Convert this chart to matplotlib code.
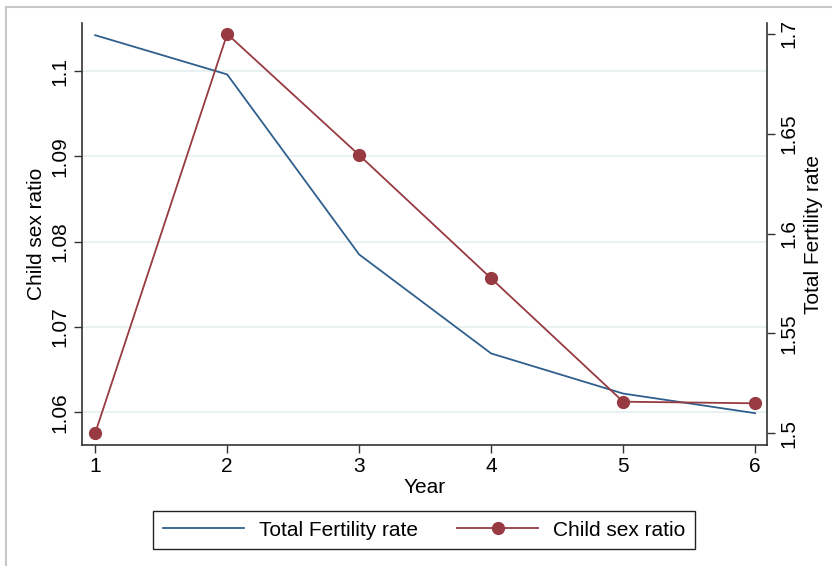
import matplotlib.pyplot as plt
from matplotlib.patches import Rectangle

plt.rcParams['font.family'] = ['Liberation Sans', 'DejaVu Sans']

# data
years = [1, 2, 3, 4, 5, 6]
fertility = [1.1042, 1.0996, 1.0785, 1.0669, 1.0622, 1.0599]   # left axis
sex_ratio = [1.500, 1.700, 1.6393, 1.5775, 1.5157, 1.5149]     # right axis
left_ticks = [1.06, 1.07, 1.08, 1.09, 1.1]
right_ticks = [1.5, 1.55, 1.6, 1.65, 1.7]

blue = '#2f5f8c'
red = '#973a42'
fs = 15

fig = plt.figure(figsize=(8.32, 5.66), dpi=100)
ax = fig.add_axes([82 / 832, 1 - 445 / 566, (767 - 82) / 832, (445 - 23) / 566])
ax2 = ax.twinx()

l1, = ax.plot(years, fertility, color=blue, lw=1.3, label='Total Fertility rate')
l2, = ax2.plot(years, sex_ratio, color=red, lw=1.3, marker='o', markersize=8.5,
               label='Child sex ratio')

ax.set_xlim(0.90, 6.09)
ax.set_ylim(1.05617, 1.10563)
ax2.set_ylim(1.494, 1.7055)

ax.set_yticks(left_ticks)
ax.set_yticklabels(['1.06', '1.07', '1.08', '1.09', '1.1'], rotation=90, va='center')
ax2.set_yticks(right_ticks)
ax2.set_yticklabels(['1.5', '1.55', '1.6', '1.65', '1.7'], rotation=90, va='center')
ax.set_xticks(years)

ax.grid(axis='y', color='#e6eff1', lw=1.2)
ax.set_axisbelow(True)

for a in (ax, ax2):
    a.spines['top'].set_visible(False)
    for s in ('left', 'right', 'bottom'):
        a.spines[s].set_color('#333333')
        a.spines[s].set_linewidth(1.2)
    a.tick_params(labelsize=fs, length=6, width=1.0, color='#333333', pad=3)
ax.spines['right'].set_visible(False)
ax2.spines['left'].set_visible(False)
ax2.spines['bottom'].set_visible(False)

ax.set_xlabel('Year', fontsize=fs, labelpad=1)
ax.set_ylabel('Child sex ratio', fontsize=fs, labelpad=3)
ax2.set_ylabel('Total Fertility rate', fontsize=fs, labelpad=4)

fig.legend(handles=[l1, l2], loc='center', bbox_to_anchor=(424 / 832, 1 - 530 / 566),
           ncol=2, fontsize=fs, frameon=True, fancybox=False, edgecolor='#222222',
           handlelength=3.9, handletextpad=0.7, columnspacing=1.9,
           borderpad=0.45, framealpha=1)

# light grey frame around the graph region
fig.patches.append(Rectangle((6 / 832, -0.1), 1.2, 1.1 - 7 / 566,
                             transform=fig.transFigure, fill=False,
                             edgecolor='#c8c8c8', lw=1.5))

fig.savefig('out.png', dpi=100)
